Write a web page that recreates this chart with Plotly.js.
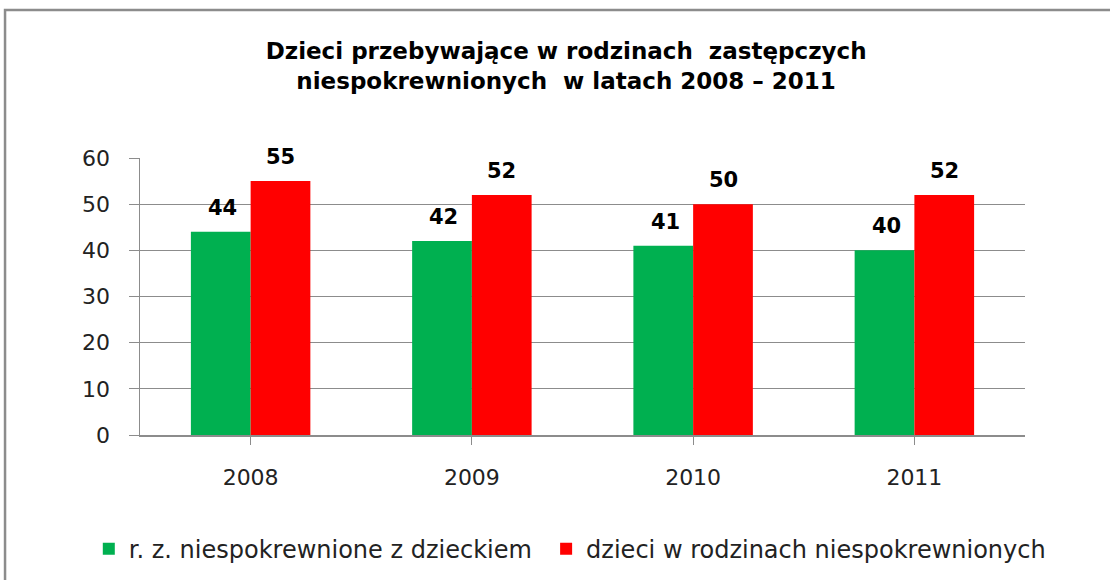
<!DOCTYPE html>
<html>
<head>
<meta charset="utf-8">
<script src="https://cdn.plot.ly/plotly-3.0.1.min.js"></script>
<style>html,body{margin:0;padding:0;background:#fff;}#chart{width:1110px;height:580px;}</style>
</head>
<body>
<div id="chart"></div>
<script>
const years = ["2008", "2009", "2010", "2011"];
const rodziny = [44, 42, 41, 40];
const dzieci = [55, 52, 50, 52];
const seriesNames = ["r. z. niespokrewnione z dzieckiem", "dzieci w rodzinach niespokrewnionych"];
const yTicks = [0, 10, 20, 30, 40, 50, 60];

const font = "'DejaVu Sans', Verdana, sans-serif";
const colors = ["#00B050", "#FF0000"];

const traces = [
  {type: "bar", x: years, y: rodziny, name: seriesNames[0], marker: {color: colors[0]},
   showlegend: true, legend: "legend"},
  {type: "bar", x: years, y: dzieci, name: seriesNames[1], marker: {color: colors[1]},
   showlegend: true, legend: "legend2"}
];

// value labels as annotations above each bar (x given as category index)
const annotations = [];
[rodziny, dzieci].forEach((vals, s) => {
  vals.forEach((v, i) => {
    annotations.push({
      x: i, y: v, xref: "x", yref: "y", text: "<b>" + v + "</b>",
      showarrow: false, xanchor: "center", yanchor: "bottom",
      xshift: s === 0 ? -28 : 30, yshift: 10,
      font: {family: font, size: 21, color: "#000"}
    });
  });
});

const legendBase = {
  orientation: "h", xref: "container", yref: "container", xanchor: "left",
  y: 0.053, yanchor: "middle", font: {family: font, size: 24, color: "#222"},
  itemwidth: 30, bgcolor: "rgba(0,0,0,0)", visible: true
};

const layout = {
  width: 1110, height: 580,
  showlegend: true,
  paper_bgcolor: "#fff", plot_bgcolor: "#fff",
  margin: {l: 140, r: 85, t: 158, b: 145},
  font: {family: font, size: 20, color: "#000"},
  title: {
    text: "<b>Dzieci przebywające w rodzinach  zastępczych<br>niespokrewnionych  w latach 2008 – 2011</b>",
    font: {family: font, size: 23, color: "#000"},
    x: 0.51, xanchor: "center", y: 0.898, yanchor: "top"
  },
  barmode: "group", bargap: 0.46, bargroupgap: 0,
  xaxis: {
    type: "category", categoryorder: "array", categoryarray: years, range: [-0.5, years.length - 0.5],
    showgrid: false, showline: true, linecolor: "#8c8c8c", linewidth: 1.5,
    ticks: "outside", ticklen: 8, tickcolor: "#8c8c8c", ticklabelstandoff: 14,
    tickfont: {family: font, size: 22, color: "#222"}
  },
  yaxis: {
    range: [0, 60], tickvals: yTicks, showgrid: true, gridcolor: "#8c8c8c", gridwidth: 1.3,
    showline: true, linecolor: "#8c8c8c", linewidth: 1.5, ticks: "outside", ticklen: 10, tickcolor: "#8c8c8c",
    ticklabelstandoff: 14,
    zeroline: false, tickfont: {family: font, size: 22, color: "#222"}
  },
  legend: Object.assign({}, legendBase, {x: 0.08}),
  legend2: Object.assign({}, legendBase, {x: 0.492}),
  annotations: annotations,
  shapes: [
    {type: "rect", xref: "paper", yref: "paper", x0: -0.1525, x1: 1.2, y0: -0.7, y1: 1.534,
     line: {color: "#8c8c8c", width: 2.5}, fillcolor: "rgba(0,0,0,0)", layer: "below"}
  ]
};

Plotly.newPlot("chart", traces, layout, {displayModeBar: false, staticPlot: true});
</script>
</body>
</html>
